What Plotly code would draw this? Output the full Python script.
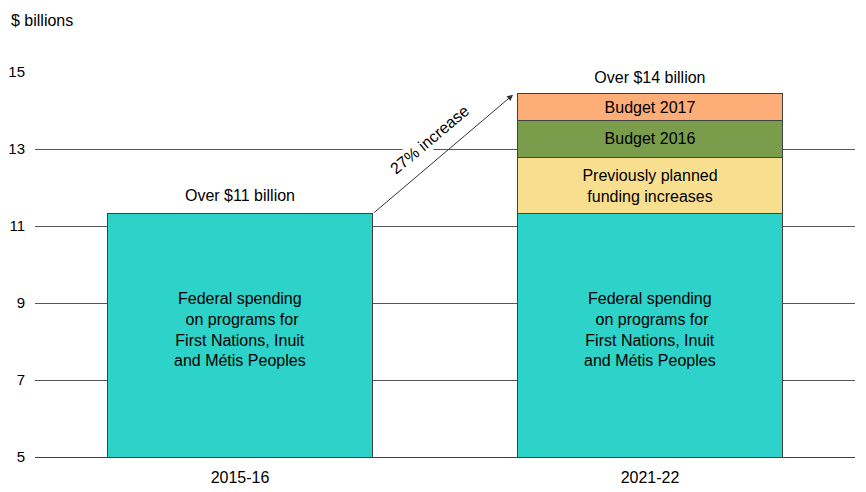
import plotly.graph_objs as go

# fiscal years on the x axis
years = ["2015-16", "2021-22"]

# stacked components ($ billions)
base_spending = [11.32, 11.32]
prev_planned = [None, 1.45]
budget_2016 = [None, 0.98]
budget_2017 = [None, 0.68]

base_label = "Federal spending<br> on programs for<br>First Nations, Inuit<br>and Métis Peoples"
totals = ["Over $11 billion", "Over $14 billion"]
y_ticks = [5, 7, 9, 11, 13, 15]

FONT = "Liberation Sans, Arial, sans-serif"
FS = 16
EDGE = dict(color="#404040", width=1)
PAD = "\u00a0\u00a0\u00a0"


def seg(y, name, color, label):
    return go.Bar(
        x=years,
        y=y,
        name=name,
        marker=dict(color=color, line=EDGE),
        text=[label if v is not None else "" for v in y],
        textposition="inside",
        insidetextanchor="middle",
        textangle=0,
        constraintext="none",
        textfont=dict(family=FONT, size=FS, color="black"),
        width=0.646,
        hoverinfo="skip",
    )


data = [
    seg(base_spending, "base", "#2dd2c8", ""),
    seg(prev_planned, "prev", "#f8df90", "Previously planned<br>funding increases"),
    seg(budget_2016, "b2016", "#799d4a", "Budget 2016"),
    seg(budget_2017, "b2017", "#fdad78", "Budget 2017"),
]

layout = go.Layout(
    barmode="stack",
    width=858,
    height=484,
    showlegend=False,
    plot_bgcolor="white",
    paper_bgcolor="white",
    font=dict(family=FONT, size=FS, color="black"),
    margin=dict(l=27, r=11, t=64, b=35),
    xaxis=dict(
        type="category",
        range=[-0.5, 1.5],
        showline=True,
        linecolor="#404040",
        linewidth=1,
        showgrid=False,
        ticks="",
        ticklabelstandoff=6,
        automargin=False,
        tickfont=dict(size=FS),
    ),
    yaxis=dict(
        range=[5, 15],
        tickvals=y_ticks,
        showgrid=True,
        gridcolor="#555555",
        gridwidth=1,
        zeroline=False,
        ticks="",
        ticklabelstandoff=9,
        automargin=False,
        tickfont=dict(size=15),
    ),
)

fig = go.Figure(data=data, layout=layout)

# label inside the base segment, centred in its visible part
for yr in years:
    fig.add_annotation(x=yr, y=(5 + base_spending[0]) / 2 + 0.15, text=base_label,
                       showarrow=False, font=dict(size=FS))

# total labels above the bars
top_2 = base_spending[1] + prev_planned[1] + budget_2016[1] + budget_2017[1]
fig.add_annotation(x=years[0], y=base_spending[0], text=totals[0], showarrow=False,
                   yanchor="middle", yshift=18, font=dict(size=FS))
fig.add_annotation(x=years[1], y=top_2, text=PAD + totals[1] + PAD, showarrow=False,
                   yanchor="middle", yshift=16, bgcolor="white", borderpad=1,
                   borderwidth=0, font=dict(size=FS))

# growth arrow
fig.add_annotation(x=0.666, y=top_2 - 0.02, ax=0.324, ay=base_spending[0],
                   xref="x", yref="y", axref="x", ayref="y",
                   text="", showarrow=True, arrowhead=2, arrowsize=1.2,
                   arrowwidth=1, arrowcolor="#333333", standoff=0)
fig.add_annotation(x=0.463, y=13.25, xref="x", yref="y", text="27% increase",
                   showarrow=False, textangle=-40, bgcolor="white",
                   font=dict(size=FS))

fig.add_annotation(x=0, y=1, xref="paper", yref="paper", xanchor="left", yanchor="top",
                   xshift=-26, yshift=62, text="$ billions", showarrow=False,
                   font=dict(size=FS))

fig.write_html("out.html")
